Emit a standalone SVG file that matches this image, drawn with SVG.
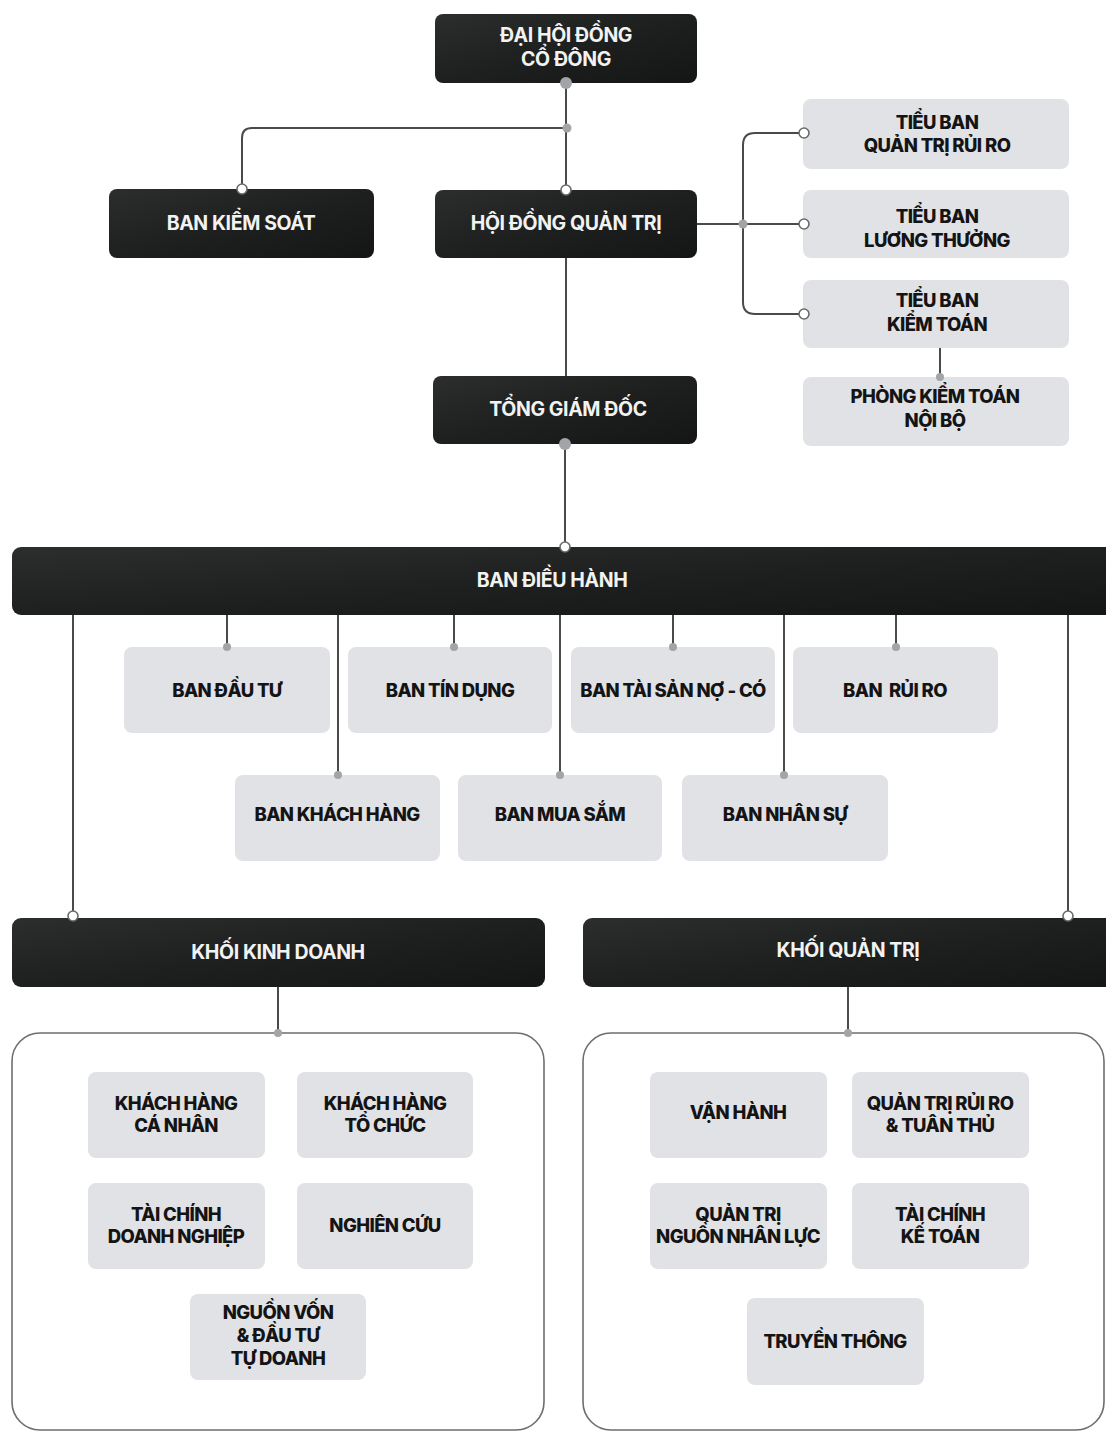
<svg xmlns="http://www.w3.org/2000/svg" width="1106" height="1432" viewBox="0 0 1106 1432">
<defs>
<linearGradient id="dk" x1="0" y1="0" x2="1" y2="1">
<stop offset="0" stop-color="#2b2e2c"/>
<stop offset="0.5" stop-color="#1d201f"/>
<stop offset="1" stop-color="#141615"/>
</linearGradient>
<style>
.dark{fill:url(#dk);}
.light{fill:#e1e2e6;}
.panel{fill:#ffffff;stroke:#6e6e6e;stroke-width:1.6;}
.tw{font-family:Inter,"Liberation Sans",sans-serif;font-weight:700;font-size:19.5px;fill:#f2f2f2;text-anchor:middle;letter-spacing:-0.4px;}
.tb{font-family:Inter,"Liberation Sans",sans-serif;font-weight:800;font-size:18.5px;fill:#141414;text-anchor:middle;letter-spacing:-0.6px;}
.ln{fill:none;stroke:#4a4a4a;stroke-width:2;}
.dg{fill:#a3a4a8;stroke:none;}
.dw{fill:#ffffff;stroke:#6a6a6a;stroke-width:1.6;}
</style>
</defs>
<rect width="1106" height="1432" fill="#ffffff"/>

<g id="connectors">
<path class="ln" d="M566 83 V190"/>
<path class="ln" d="M566 128 H252 Q242 128 242 138 V189"/>
<path class="ln" d="M697 224 H804"/>
<path class="ln" d="M804 133 H755 Q743 133 743 145 V302 Q743 314 755 314 H804"/>
<path class="ln" d="M940 348 V377"/>
<path class="ln" d="M566 258 V376"/>
<path class="ln" d="M565 444 V547"/>
<path class="ln" d="M73 615 V916"/>
<path class="ln" d="M227 615 V647"/>
<path class="ln" d="M338 615 V775"/>
<path class="ln" d="M454 615 V647"/>
<path class="ln" d="M560 615 V775"/>
<path class="ln" d="M673 615 V647"/>
<path class="ln" d="M784 615 V775"/>
<path class="ln" d="M896 615 V647"/>
<path class="ln" d="M1068 615 V916"/>
<path class="ln" d="M278 987 V1033"/>
<path class="ln" d="M848 987 V1033"/>
</g>

<g id="n-dhdcd"><rect class="dark" x="435" y="14" width="262" height="69" rx="8"/><text class="tw" x="566" y="42">ĐẠI HỘI ĐỒNG</text><text class="tw" x="566" y="66">CỔ ĐÔNG</text></g>
<g id="n-bks"><rect class="dark" x="109" y="189" width="265" height="69" rx="8"/><text class="tw" x="241" y="230">BAN KIỂM SOÁT</text></g>
<g id="n-hdqt"><rect class="dark" x="435" y="190" width="262" height="68" rx="8"/><text class="tw" x="566" y="230">HỘI ĐỒNG QUẢN TRỊ</text></g>
<g id="n-tb-qtrr"><rect class="light" x="803" y="99" width="266" height="70" rx="8"/><text class="tb" x="937" y="129">TIỂU BAN</text><text class="tb" x="937" y="152">QUẢN TRỊ RỦI RO</text></g>
<g id="n-tb-lt"><rect class="light" x="803" y="190" width="266" height="68" rx="8"/><text class="tb" x="937" y="223">TIỂU BAN</text><text class="tb" x="937" y="247">LƯƠNG THƯỞNG</text></g>
<g id="n-tb-kt"><rect class="light" x="803" y="280" width="266" height="68" rx="8"/><text class="tb" x="937" y="307">TIỂU BAN</text><text class="tb" x="937" y="331">KIỂM TOÁN</text></g>
<g id="n-pktnb"><rect class="light" x="803" y="377" width="266" height="69" rx="8"/><text class="tb" x="935" y="403">PHÒNG KIỂM TOÁN</text><text class="tb" x="935" y="427">NỘI BỘ</text></g>
<g id="n-tgd"><rect class="dark" x="433" y="376" width="264" height="68" rx="8"/><text class="tw" x="568" y="416">TỔNG GIÁM ĐỐC</text></g>
<g id="n-bdh"><rect class="dark" x="12" y="547" width="1110" height="68" rx="9"/><text class="tw" x="552" y="587">BAN ĐIỀU HÀNH</text></g>

<g id="n-bandautu"><rect class="light" x="124" y="647" width="206" height="86" rx="8"/><text class="tb" x="227" y="697">BAN ĐẦU TƯ</text></g>
<g id="n-bantindung"><rect class="light" x="348" y="647" width="204" height="86" rx="8"/><text class="tb" x="450" y="697">BAN TÍN DỤNG</text></g>
<g id="n-bantaisan"><rect class="light" x="571" y="647" width="204" height="86" rx="8"/><text class="tb" x="673" y="697">BAN TÀI SẢN NỢ - CÓ</text></g>
<g id="n-banruiro"><rect class="light" x="793" y="647" width="205" height="86" rx="8"/><text class="tb" x="895" y="697" xml:space="preserve">BAN  RỦI RO</text></g>
<g id="n-bankh"><rect class="light" x="235" y="775" width="205" height="86" rx="8"/><text class="tb" x="337" y="821">BAN KHÁCH HÀNG</text></g>
<g id="n-banms"><rect class="light" x="458" y="775" width="204" height="86" rx="8"/><text class="tb" x="560" y="821">BAN MUA SẮM</text></g>
<g id="n-banns"><rect class="light" x="682" y="775" width="206" height="86" rx="8"/><text class="tb" x="785" y="821">BAN NHÂN SỰ</text></g>

<g id="n-kkd"><rect class="dark" x="12" y="918" width="533" height="69" rx="9"/><text class="tw" x="278" y="959">KHỐI KINH DOANH</text></g>
<g id="n-kqt"><rect class="dark" x="583" y="918" width="540" height="69" rx="9"/><text class="tw" x="848" y="957">KHỐI QUẢN TRỊ</text></g>

<g id="panel-kkd"><rect class="panel" x="12" y="1033" width="532" height="397" rx="28"/></g>
<g id="panel-kqt"><rect class="panel" x="583" y="1033" width="521" height="397" rx="28"/></g>

<g id="n-khcn"><rect class="light" x="88" y="1072" width="177" height="86" rx="8"/><text class="tb" x="176" y="1110">KHÁCH HÀNG</text><text class="tb" x="176" y="1132">CÁ NHÂN</text></g>
<g id="n-khtc"><rect class="light" x="297" y="1072" width="176" height="86" rx="8"/><text class="tb" x="385" y="1110">KHÁCH HÀNG</text><text class="tb" x="385" y="1132">TỔ CHỨC</text></g>
<g id="n-tcdn"><rect class="light" x="88" y="1183" width="177" height="86" rx="8"/><text class="tb" x="176" y="1221">TÀI CHÍNH</text><text class="tb" x="176" y="1243">DOANH NGHIỆP</text></g>
<g id="n-nc"><rect class="light" x="297" y="1183" width="176" height="86" rx="8"/><text class="tb" x="385" y="1232">NGHIÊN CỨU</text></g>
<g id="n-nvdt"><rect class="light" x="190" y="1294" width="176" height="86" rx="8"/><text class="tb" x="278" y="1319">NGUỒN VỐN</text><text class="tb" x="278" y="1342">&amp; ĐẦU TƯ</text><text class="tb" x="278" y="1365">TỰ DOANH</text></g>

<g id="n-vh"><rect class="light" x="650" y="1072" width="177" height="86" rx="8"/><text class="tb" x="738" y="1119">VẬN HÀNH</text></g>
<g id="n-qtrrtt"><rect class="light" x="852" y="1072" width="177" height="86" rx="8"/><text class="tb" x="940" y="1110">QUẢN TRỊ RỦI RO</text><text class="tb" x="940" y="1132">&amp; TUÂN THỦ</text></g>
<g id="n-qtnnl"><rect class="light" x="650" y="1183" width="177" height="86" rx="8"/><text class="tb" x="738" y="1221">QUẢN TRỊ</text><text class="tb" x="738" y="1243">NGUỒN NHÂN LỰC</text></g>
<g id="n-tckt"><rect class="light" x="852" y="1183" width="177" height="86" rx="8"/><text class="tb" x="940" y="1221">TÀI CHÍNH</text><text class="tb" x="940" y="1243">KẾ TOÁN</text></g>
<g id="n-tt"><rect class="light" x="747" y="1298" width="177" height="87" rx="8"/><text class="tb" x="835" y="1348">TRUYỀN THÔNG</text></g>

<g id="dots">
<circle class="dg" cx="566" cy="83" r="6" stroke="#6f6f73" stroke-width="1.5"/>
<circle class="dg" cx="567" cy="128" r="4.5"/>
<circle class="dw" cx="242" cy="189" r="5"/>
<circle class="dw" cx="566" cy="190" r="5"/>
<circle class="dg" cx="743" cy="224" r="4.5"/>
<circle class="dw" cx="804" cy="133" r="5"/>
<circle class="dw" cx="804" cy="224" r="5"/>
<circle class="dw" cx="804" cy="314" r="5"/>
<circle class="dg" cx="940" cy="377" r="4"/>
<circle class="dg" cx="565" cy="444" r="6" stroke="#6f6f73" stroke-width="1.5"/>
<circle class="dw" cx="565" cy="547" r="5"/>
<circle class="dg" cx="227" cy="647" r="4"/>
<circle class="dg" cx="454" cy="647" r="4"/>
<circle class="dg" cx="673" cy="647" r="4"/>
<circle class="dg" cx="896" cy="647" r="4"/>
<circle class="dg" cx="338" cy="775" r="4"/>
<circle class="dg" cx="560" cy="775" r="4"/>
<circle class="dg" cx="784" cy="775" r="4"/>
<circle class="dw" cx="73" cy="916" r="5"/>
<circle class="dw" cx="1068" cy="916" r="5"/>
<circle class="dg" cx="278" cy="1033" r="4"/>
<circle class="dg" cx="848" cy="1033" r="4"/>
</g>
</svg>
